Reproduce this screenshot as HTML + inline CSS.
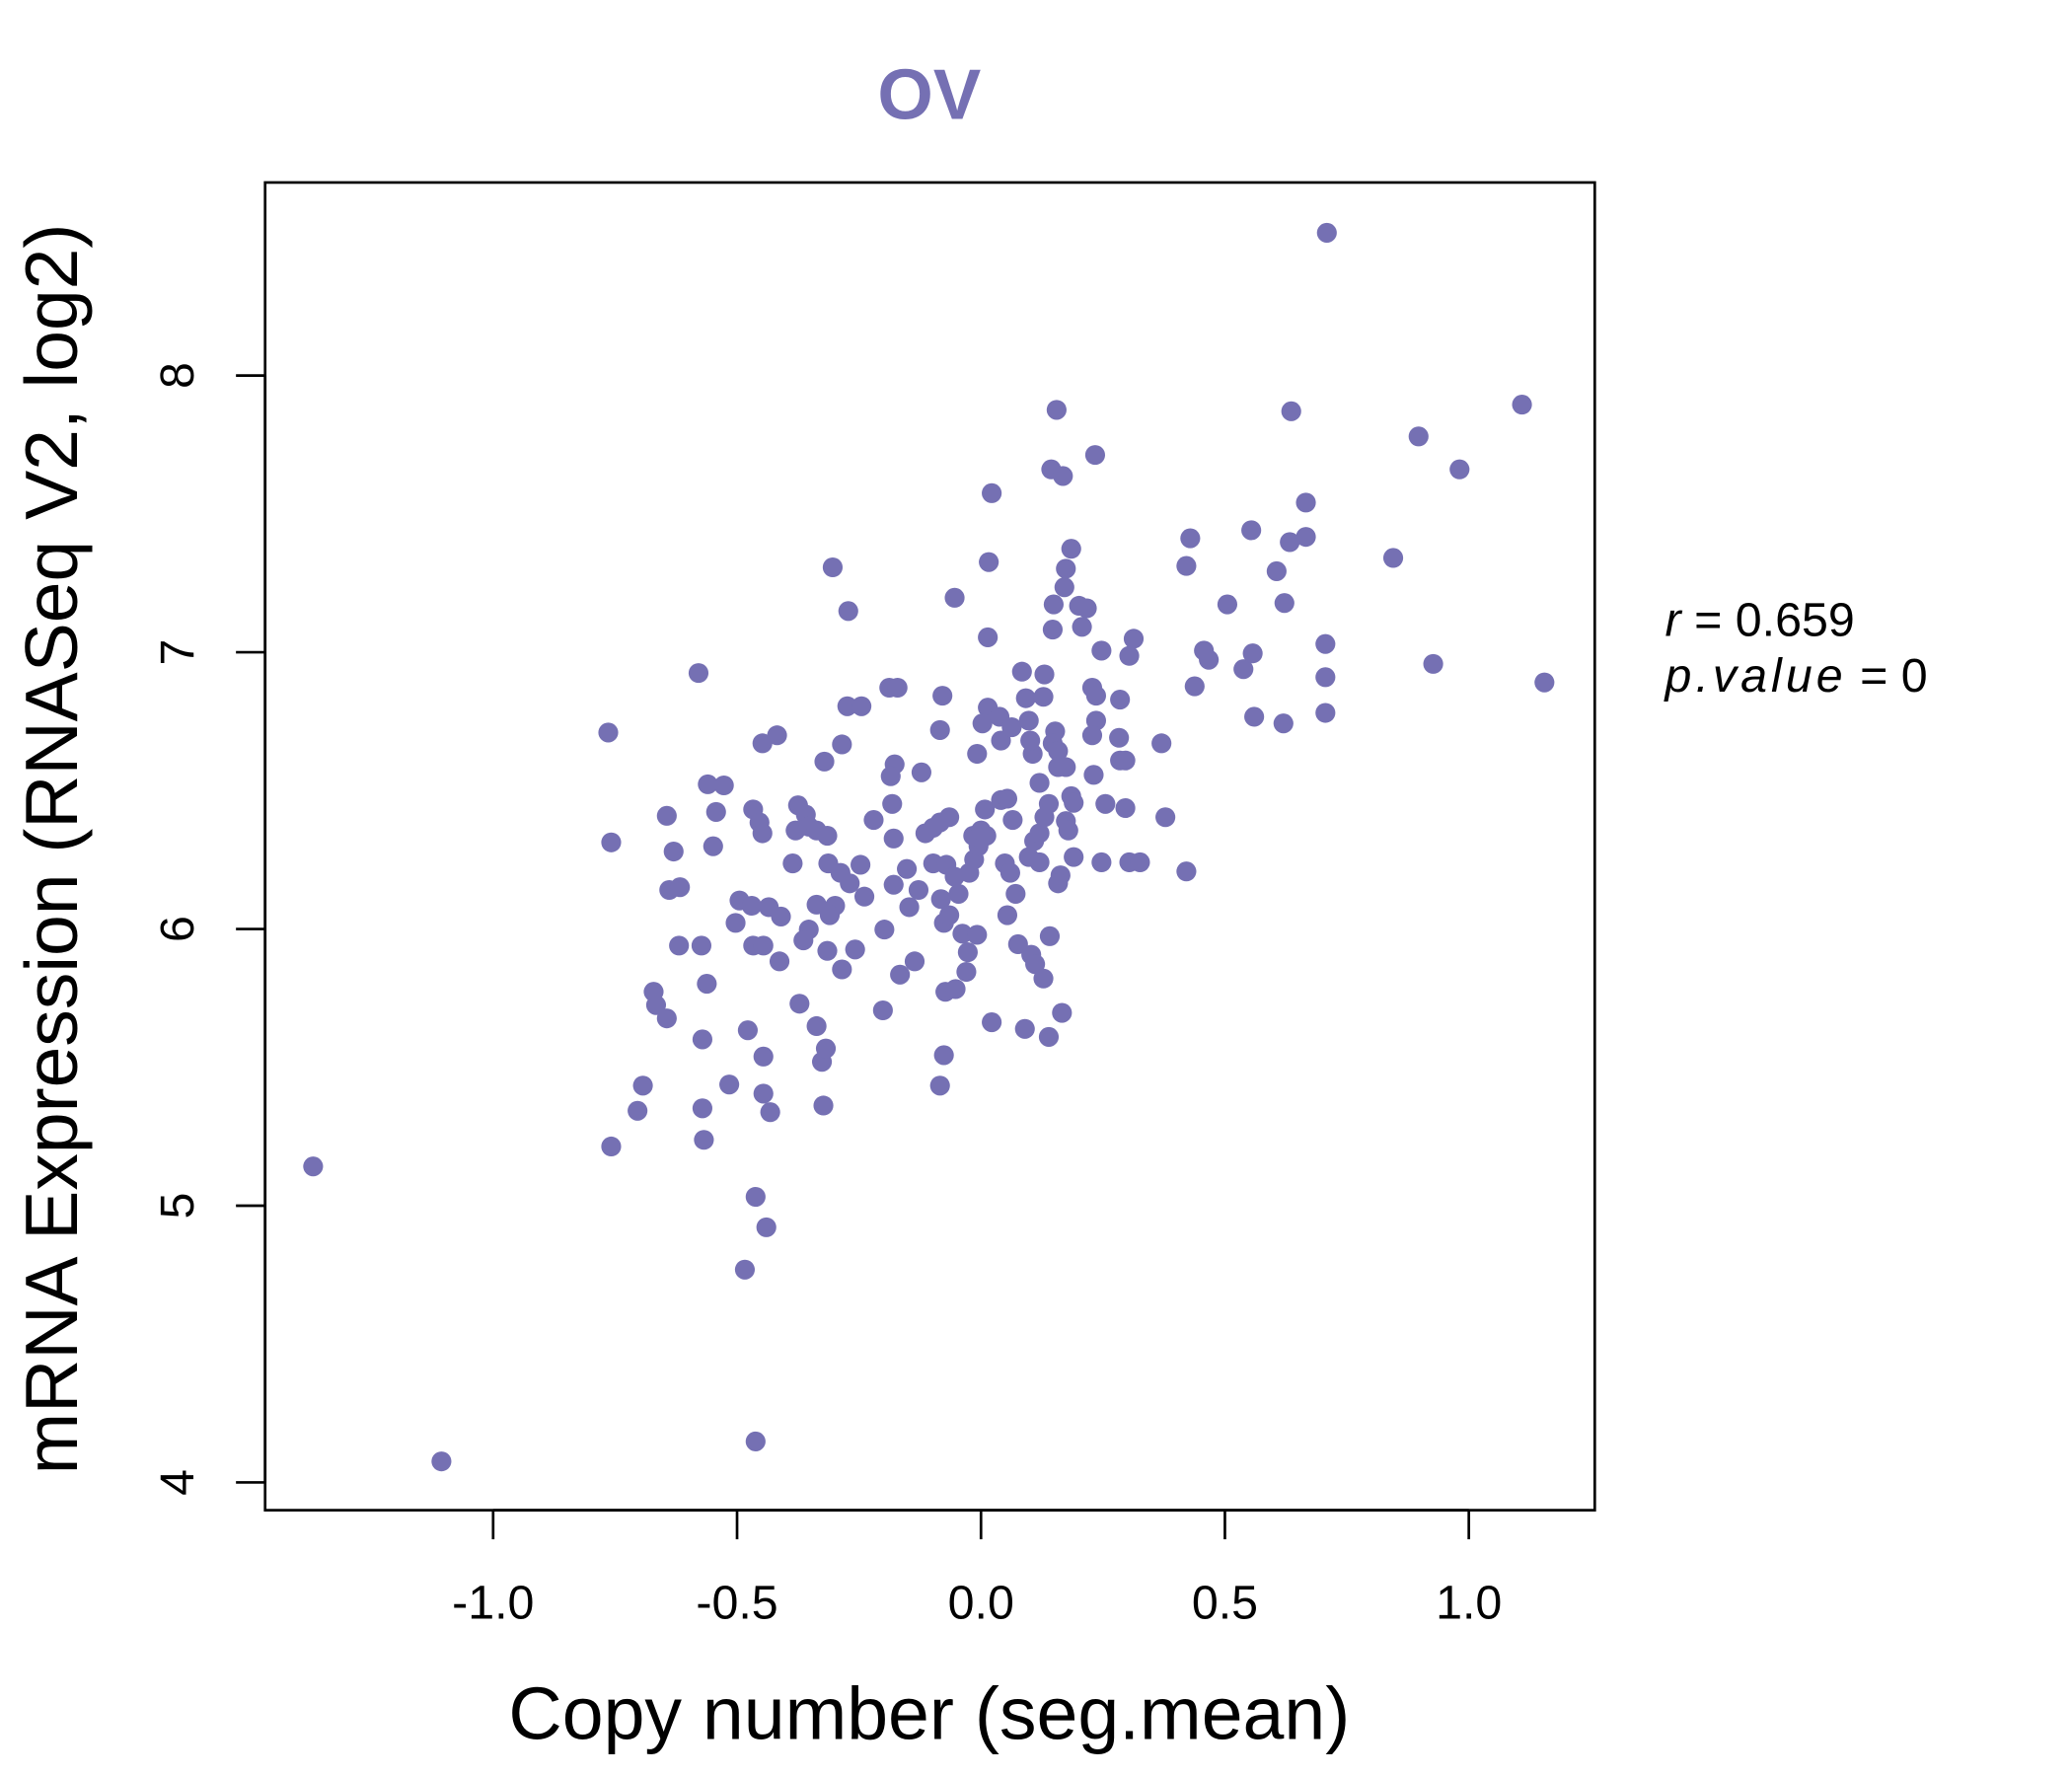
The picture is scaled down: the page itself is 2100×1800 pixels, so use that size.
<!DOCTYPE html>
<html><head><meta charset="utf-8"><style>
html,body{margin:0;padding:0;background:#fff;}
svg{display:block;}
text{font-family:"Liberation Sans",Arial,sans-serif;fill:#000;}
</style></head><body>
<svg id="chart" width="2100" height="1800" viewBox="2 0 1563 1343" preserveAspectRatio="none" xmlns="http://www.w3.org/2000/svg">
<rect x="-10" y="-10" width="1600" height="1400" fill="#fff"/>
<text x="703" y="90" text-anchor="middle" font-size="54" font-weight="bold" style="fill:#7570B3">OV</text>
<rect x="202" y="138" width="1003" height="1004" fill="none" stroke="#000" stroke-width="2"/>
<g id="xaxis"></g>
<g id="yaxis"></g>
<g id="points"></g>
<text x="703" y="1315" text-anchor="middle" font-size="56">Copy number (seg.mean)</text>
<text transform="translate(60,642) rotate(-90)" text-anchor="middle" font-size="56">mRNA Expression (RNASeq V2, log2)</text>
<text x="1258" y="481" font-size="36"><tspan font-style="italic">r</tspan> = 0.659</text>
<text x="1258" y="523" font-size="36"><tspan font-style="italic" letter-spacing="3">p.value</tspan> = 0</text>
</svg>
<script>
const xTicks=[-1.0,-0.5,0.0,0.5,1.0];
const xTickLabels=["-1.0","-0.5","0.0","0.5","1.0"];
const yTicks=[4,5,6,7,8];
const yTickLabels=["4","5","6","7","8"];
const xVals=[-1.369,-1.106,-0.462,-0.484,-0.462,-0.440,-0.758,-0.568,-0.571,-0.516,-0.693,-0.704,-0.446,-0.432,-0.323,-0.478,-0.446,-0.571,-0.671,-0.666,-0.644,-0.562,-0.573,-0.619,-0.758,-0.764,-0.579,-0.560,-0.527,-0.549,-0.644,-0.630,-0.639,-0.617,-0.543,-0.467,-0.454,-0.448,-0.495,-0.470,-0.435,-0.410,-0.503,-0.467,-0.446,-0.413,-0.372,-0.337,-0.326,-0.318,-0.304,-0.272,-0.448,-0.418,-0.321,-0.285,-0.274,-0.245,-0.188,-0.171,-0.079,-0.084,-0.054,0.016,0.022,0.014,-0.375,-0.359,-0.380,-0.353,-0.337,-0.315,-0.386,-0.313,-0.288,-0.269,-0.337,-0.299,-0.310,-0.353,-0.364,-0.315,-0.285,-0.258,-0.239,-0.247,-0.220,-0.182,-0.177,-0.185,-0.179,-0.179,-0.152,-0.128,-0.147,-0.136,-0.166,-0.201,-0.198,-0.122,-0.114,-0.098,-0.084,-0.065,-0.098,-0.082,-0.071,-0.076,-0.054,-0.046,-0.065,-0.038,-0.027,-0.030,-0.024,-0.014,-0.005,-0.016,0.000,0.011,0.008,0.014,0.003,0.038,-0.008,0.041,0.063,0.041,0.054,0.065,0.049,0.060,0.071,0.054,0.076,0.103,0.111,0.128,0.090,0.139,0.022,-0.076,-0.084,-0.008,0.141,0.166,0.098,0.109,0.120,0.130,0.139,0.120,0.106,0.101,0.098,0.092,0.084,0.130,0.128,0.152,0.147,0.158,0.158,0.174,0.185,0.190,0.174,0.179,0.190,0.163,0.158,0.147,0.149,0.171,0.174,0.185,0.201,0.217,0.207,0.228,0.236,0.247,0.236,0.228,0.231,0.255,0.285,0.283,0.285,0.296,0.296,0.304,0.326,0.304,0.313,0.370,0.378,0.421,0.247,0.120,0.155,0.144,0.168,0.234,0.421,0.429,0.438,0.457,0.467,0.505,0.538,0.557,0.560,0.554,0.606,0.622,0.620,0.633,0.636,0.666,0.666,0.706,0.706,0.706,0.709,0.845,0.897,0.927,0.981,1.109,1.155,-0.073,-0.052];
const yVals=[5.142,4.076,4.148,4.769,5.032,4.922,5.214,5.238,5.352,5.438,5.434,5.343,5.405,5.338,5.362,5.634,5.539,5.601,5.773,5.725,5.677,5.802,5.940,5.940,6.313,6.710,6.925,6.523,6.519,6.299,6.409,6.280,6.141,6.151,6.423,6.432,6.385,6.346,6.103,6.084,6.079,6.045,6.022,5.940,5.940,5.883,5.730,5.649,5.520,5.568,7.307,7.149,6.671,6.700,6.605,6.667,6.805,6.805,6.872,6.872,6.843,6.719,7.197,7.326,7.575,7.054,6.447,6.413,6.356,6.370,6.356,6.337,6.237,6.237,6.203,6.165,6.088,6.084,6.050,5.998,5.959,5.921,5.854,5.926,6.117,6.232,6.394,6.452,6.595,6.552,6.327,6.160,6.217,6.141,6.079,5.883,5.835,5.706,5.998,6.566,6.346,6.366,6.385,6.404,6.237,6.108,6.232,6.022,6.189,6.127,6.050,5.983,5.916,5.845,6.203,6.251,6.299,6.337,6.356,6.337,6.432,6.800,6.743,6.767,6.633,6.681,6.729,6.466,6.471,6.394,6.237,6.203,6.127,6.050,5.945,5.907,5.873,5.821,5.639,5.610,5.663,5.544,5.434,5.979,5.974,5.697,6.260,6.318,6.346,6.404,6.452,6.528,6.633,6.681,6.753,6.834,6.930,6.920,6.839,6.714,6.671,6.643,6.585,6.585,6.480,6.456,6.390,6.356,6.260,6.194,6.165,7.082,7.173,7.235,7.302,7.374,7.168,7.159,7.092,6.872,6.843,7.006,6.753,6.700,6.557,6.452,6.829,6.691,6.609,6.609,6.437,6.241,6.241,6.987,7.049,6.671,6.404,6.208,6.241,6.241,7.876,7.661,7.637,7.713,7.312,7.412,6.877,7.006,6.973,7.173,6.939,6.996,6.767,7.441,7.293,7.178,6.743,7.398,7.871,7.541,7.417,7.030,6.910,6.781,8.516,7.341,7.780,6.958,7.661,7.895,6.891,5.773,5.783];

const NS="http://www.w3.org/2000/svg";
function xScale(v){return 742+v*368;}
function yScale(v){return 284+(8-v)*209.25;}
function mk(tag,attrs,parent){const e=document.createElementNS(NS,tag);for(const k in attrs)e.setAttribute(k,attrs[k]);parent.appendChild(e);return e;}
const xa=document.getElementById('xaxis'),ya=document.getElementById('yaxis'),pg=document.getElementById('points');
mk('line',{x1:xScale(xTicks[0]),x2:xScale(xTicks[xTicks.length-1]),y1:1142,y2:1142,stroke:'#000','stroke-width':2},xa);
xTicks.forEach((t,i)=>{
  const l=mk('line',{x1:xScale(t),x2:xScale(t),y1:1142,y2:1164,stroke:'#000','stroke-width':2},xa);
  
  
  const tx=mk('text',{x:xScale(t),y:1224,'text-anchor':'middle','font-size':36},xa);
  tx.textContent=xTickLabels[i];
  
  
});
mk('line',{x1:202,x2:202,y1:yScale(yTicks[0]),y2:yScale(yTicks[yTicks.length-1]),stroke:'#000','stroke-width':2},ya);
yTicks.forEach((t,i)=>{
  const l=mk('line',{x1:180,x2:202,y1:yScale(t),y2:yScale(t),stroke:'#000','stroke-width':2},ya);
  
  
  const tx=mk('text',{transform:'translate(148,'+yScale(t)+') rotate(-90)','text-anchor':'middle','font-size':36},ya);
  tx.textContent=yTickLabels[i];
  
  
});
xVals.forEach((v,i)=>{
  const c=mk('circle',{cx:xScale(v),cy:yScale(yVals[i]),r:7.5,fill:'#7570B3'},pg);
  
  
});
</script>
</body></html>
